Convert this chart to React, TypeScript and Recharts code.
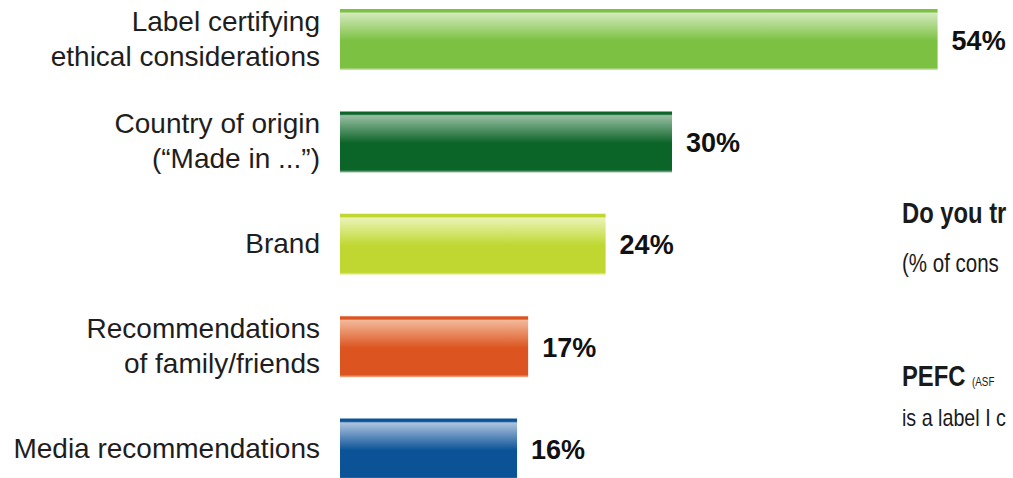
import React from 'react';
import { BarChart, Bar, XAxis, YAxis, Cell, LabelList } from 'recharts';

// Reasons for trusting a product (% of consumers)
const categories = [
  'Label certifying\nethical considerations',
  'Country of origin\n(“Made in ...”)',
  'Brand',
  'Recommendations\nof family/friends',
  'Media recommendations',
];
const shares = [54, 30, 24, 17, 16];

const baseColors = ['#7cc142', '#0b6428', '#bfd730', '#dc5520', '#0b5396'];
const glossColors = ['#d3e9bd', '#97bfa2', '#ebf3b6', '#f3b898', '#adc3df'];

const data = categories.map((name, i) => ({ name, share: shares[i] }));

const labelFont = '"Liberation Sans", Arial, Helvetica, sans-serif';

function CategoryTick(props: any) {
  const { x, y, payload } = props;
  const lines = String(payload.value).split('\n');
  const first = 9 - 17.5 * (lines.length - 1);
  return (
    <text
      x={x - 20}
      y={y}
      textAnchor="end"
      fill="#1e1e1e"
      fontSize={28}
      fontFamily={labelFont}
    >
      {lines.map((line, i) => (
        <tspan key={i} x={x - 20} y={y + first + i * 35}>
          {line}
        </tspan>
      ))}
    </text>
  );
}

function ValueLabel(props: any) {
  const { x, y, width, height, value } = props;
  return (
    <text
      x={x + width + 14}
      y={y + height / 2 + 10}
      fill="#111"
      fontSize={27}
      fontWeight="bold"
      fontFamily={labelFont}
    >
      {value}%
    </text>
  );
}

// cut-off fragments of the neighbouring chart, condensed type
const sideText: React.CSSProperties = {
  position: 'absolute',
  left: 0,
  whiteSpace: 'nowrap',
  transform: 'scaleX(0.82)',
  transformOrigin: 'left top',
  fontFamily: labelFont,
  color: '#1a1a1a',
};

export default function App() {
  return (
    <div
      style={{
        position: 'fixed',
        top: 0,
        left: 0,
        width: 1013,
        height: 478,
        overflow: 'hidden',
        background: '#fff',
      }}
    >
      <div style={{ position: 'absolute', top: -12, left: 0 }}>
        <BarChart
          width={1013}
          height={512}
          data={data}
          layout="vertical"
          margin={{ top: 0, right: 9, bottom: 0, left: 0 }}
          barCategoryGap={0}
        >
          <defs>
            {baseColors.map((c, i) => (
              <linearGradient key={i} id={`gloss-${i}`} x1="0" y1="0" x2="0" y2="1">
                <stop offset="0" stopColor={c} />
                <stop offset="0.045" stopColor={c} />
                <stop offset="0.07" stopColor={glossColors[i]} />
                <stop offset="0.52" stopColor={c} />
                <stop offset="0.96" stopColor={c} />
                <stop offset="1" stopColor={glossColors[i]} />
              </linearGradient>
            ))}
          </defs>
          <XAxis type="number" domain={[0, 60]} hide />
          <YAxis
            type="category"
            dataKey="name"
            width={340}
            axisLine={false}
            tickLine={false}
            tickSize={0}
            tickMargin={0}
            tick={<CategoryTick />}
            interval={0}
          />
          <Bar dataKey="share" barSize={61} isAnimationActive={false}>
            {data.map((_, i) => (
              <Cell key={i} fill={`url(#gloss-${i})`} />
            ))}
            <LabelList dataKey="share" content={<ValueLabel />} />
          </Bar>
        </BarChart>
      </div>

      <div style={{ position: 'absolute', left: 902, top: 0, width: 111 }}>
        <div style={{ ...sideText, top: 197, fontSize: 29, fontWeight: 'bold' }}>Do you tr</div>
        <div style={{ ...sideText, top: 249, fontSize: 25 }}>(% of cons</div>
        <div style={{ ...sideText, top: 360, fontSize: 29, fontWeight: 'bold' }}>
          PEFC <span style={{ fontSize: 12, fontWeight: 'normal' }}>(ASF</span>
        </div>
        <div style={{ ...sideText, top: 404, fontSize: 24 }}>is a label I c</div>
      </div>
    </div>
  );
}
